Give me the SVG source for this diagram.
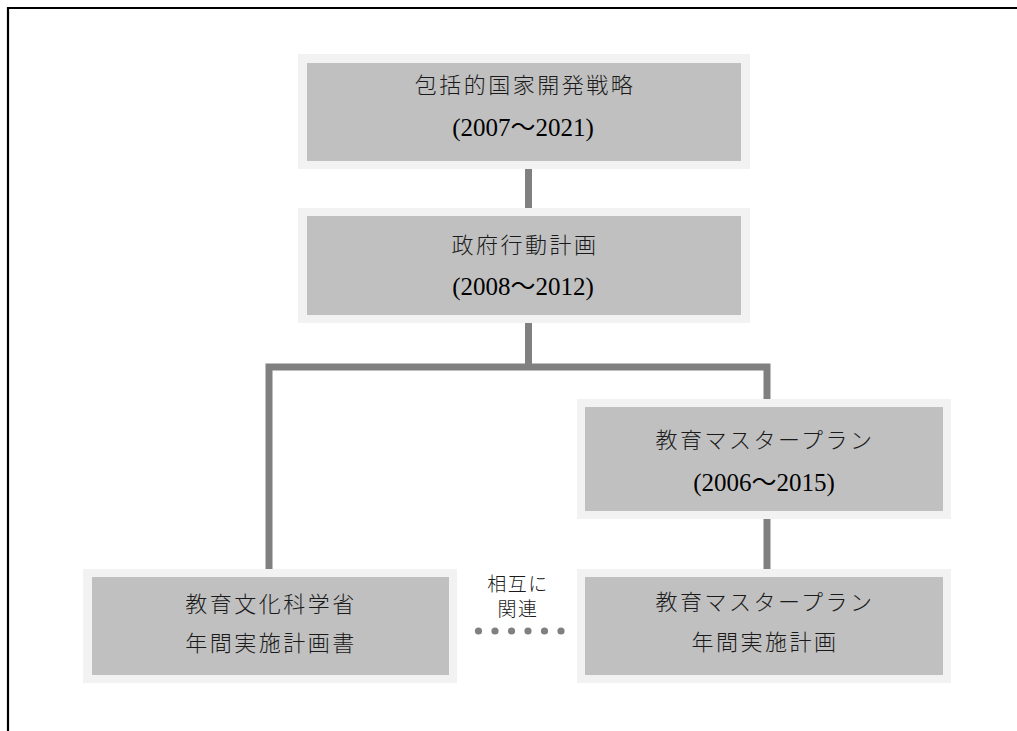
<svg xmlns="http://www.w3.org/2000/svg" width="1017" height="731" viewBox="0 0 1017 731">
<style>
.outer{fill:#f2f2f2}
.inner{fill:#c0c0c0}
.jp{font-family:"Noto Sans CJK JP","Noto Sans CJK SC",sans-serif;font-size:22px;font-weight:300;letter-spacing:2.5px;fill:#1a1a1a;text-anchor:middle}
.dt{font-family:"Liberation Serif","Noto Sans CJK JP",serif;font-size:25px;fill:#000;text-anchor:middle}
.lbl{font-family:"Noto Sans CJK JP","Noto Sans CJK SC",sans-serif;font-size:19px;font-weight:300;letter-spacing:1.5px;fill:#1a1a1a;text-anchor:middle}
.conn{stroke:#808080;stroke-width:7;fill:none}
</style>
<rect width="1017" height="731" fill="#fff"/>
<path d="M8 731 V8 H1017" stroke="#000" stroke-width="2.2" fill="none"/>
<g id="connectors">
<line class="conn" x1="528.5" y1="169" x2="528.5" y2="208"/>
<line class="conn" x1="528.5" y1="323" x2="528.5" y2="367"/>
<polyline class="conn" points="269,569 269,367 767,367 767,399"/>
<line class="conn" x1="767" y1="519" x2="767" y2="569"/>
<g fill="#808080">
<circle cx="478.5" cy="631" r="3.6"/>
<circle cx="495" cy="631" r="3.6"/>
<circle cx="511.5" cy="631" r="3.6"/>
<circle cx="528" cy="631" r="3.6"/>
<circle cx="544.5" cy="631" r="3.6"/>
<circle cx="561" cy="631" r="3.6"/>
</g>
<text class="lbl" x="518" y="591">相互に</text>
<text class="lbl" x="518" y="616">関連</text>
</g>
<g id="node-strategy">
<rect class="outer" x="298" y="54" width="452" height="115"/>
<rect class="inner" x="307" y="63" width="434" height="98"/>
<text class="jp" x="525" y="93">包括的国家開発戦略</text>
<text class="dt" x="523" y="136">(2007～2021)</text>
</g>
<g id="node-action">
<rect class="outer" x="298" y="208" width="452" height="115"/>
<rect class="inner" x="307" y="216" width="434" height="99"/>
<text class="jp" x="525" y="253">政府行動計画</text>
<text class="dt" x="523" y="295">(2008～2012)</text>
</g>
<g id="node-masterplan">
<rect class="outer" x="577" y="399" width="374" height="120"/>
<rect class="inner" x="585" y="407" width="358" height="104"/>
<text class="jp" x="765" y="448">教育マスタープラン</text>
<text class="dt" x="764" y="491">(2006～2015)</text>
</g>
<g id="node-ministry">
<rect class="outer" x="83" y="569" width="374" height="114"/>
<rect class="inner" x="92" y="577" width="357" height="98"/>
<text class="jp" x="271" y="612">教育文化科学省</text>
<text class="jp" x="271" y="651">年間実施計画書</text>
</g>
<g id="node-annual">
<rect class="outer" x="577" y="569" width="374" height="114"/>
<rect class="inner" x="585" y="577" width="358" height="98"/>
<text class="jp" x="765" y="610">教育マスタープラン</text>
<text class="jp" x="765" y="650">年間実施計画</text>
</g>
</svg>
